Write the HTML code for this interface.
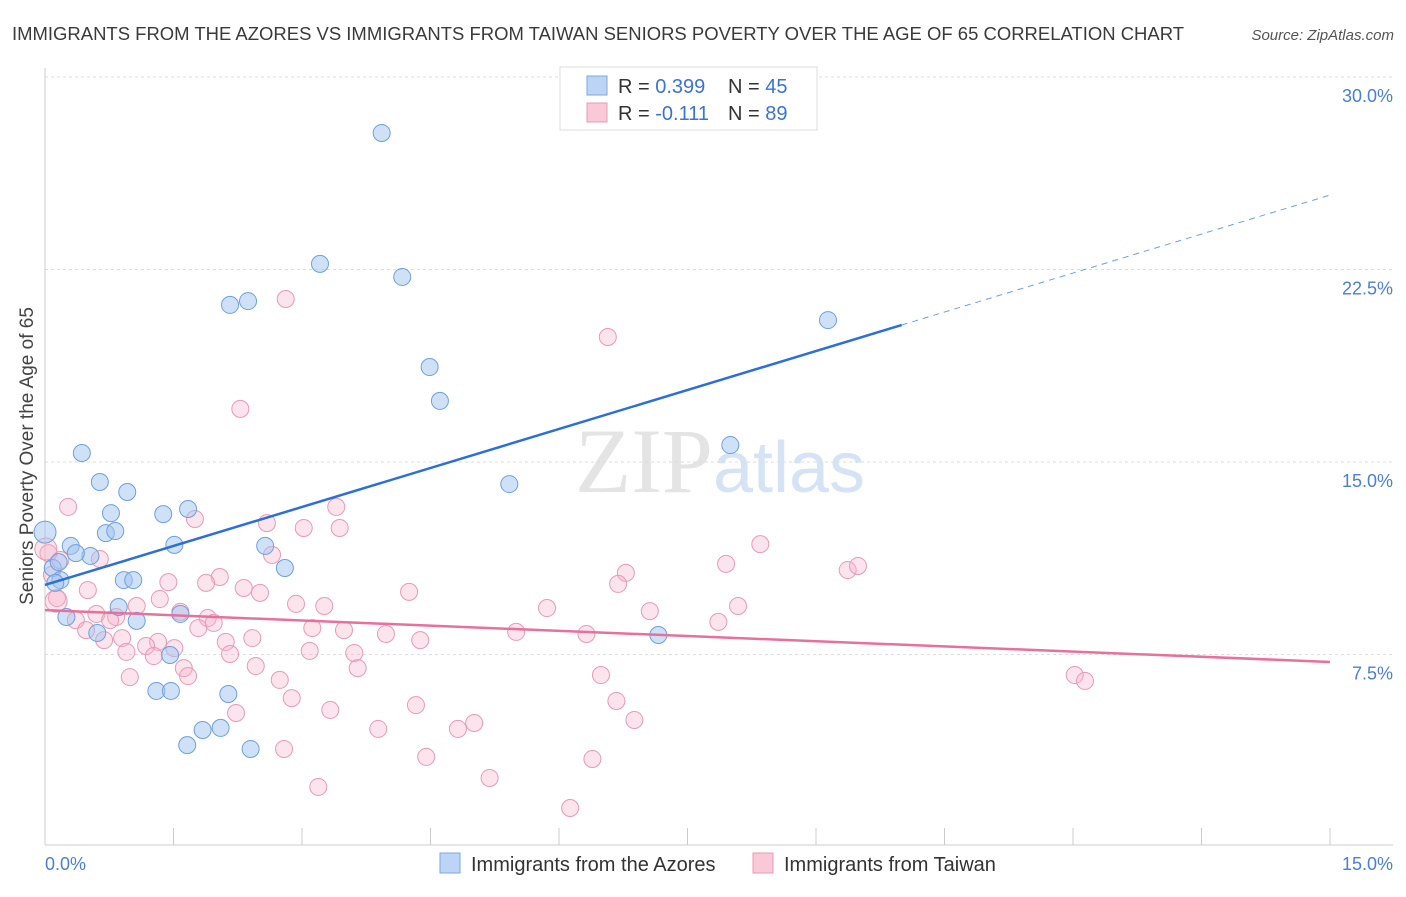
<!DOCTYPE html>
<html><head><meta charset="utf-8"><style>
body{margin:0;background:#fff;font-family:"Liberation Sans",sans-serif;}
</style></head><body>
<svg id="chart" width="1406" height="892" xmlns="http://www.w3.org/2000/svg" style="font-family:'Liberation Sans',sans-serif">
<text x="12" y="40" font-size="18" fill="#3a3a3a" textLength="1172" lengthAdjust="spacingAndGlyphs">IMMIGRANTS FROM THE AZORES VS IMMIGRANTS FROM TAIWAN SENIORS POVERTY OVER THE AGE OF 65 CORRELATION CHART</text>
<text x="1394" y="40" font-size="15" fill="#555" text-anchor="end" font-style="italic">Source: ZipAtlas.com</text>
<text x="720" y="492" font-size="92" text-anchor="middle" fill="#e4e4e4" font-family="Liberation Serif">ZIP<tspan fill="#d6e3f5" font-family="Liberation Sans" font-size="72">atlas</tspan></text>
<text transform="translate(33,456) rotate(-90)" font-size="19" fill="#444" text-anchor="middle">Seniors Poverty Over the Age of 65</text>
<g id="grid"></g><g id="axes"></g><g id="pts"></g><g id="trend"></g>
<g>
<rect x="560" y="67" width="257" height="63" fill="#fff" stroke="#ddd"/>
<rect x="587" y="76" width="20" height="19" fill="#bcd4f6" stroke="#7aa8e0"/>
<rect x="587" y="103" width="20" height="19" fill="#f9c9d8" stroke="#e89ab5"/>
<text x="618" y="93" font-size="20" fill="#333">R = <tspan fill="#3a74d0">0.399</tspan><tspan x="728">N = </tspan><tspan fill="#3a74d0">45</tspan></text>
<text x="618" y="120" font-size="20" fill="#333">R = <tspan fill="#3a74d0">-0.111</tspan><tspan x="728">N = </tspan><tspan fill="#3a74d0">89</tspan></text>
</g>
<g>
<rect x="440" y="853" width="20" height="20" fill="#bcd4f6" stroke="#7aa8e0"/>
<text x="471" y="871" font-size="20" fill="#333">Immigrants from the Azores</text>
<rect x="753" y="853" width="20" height="20" fill="#f9c9d8" stroke="#e89ab5"/>
<text x="784" y="871" font-size="20" fill="#333">Immigrants from Taiwan</text>
</g>
</svg>
<script>
const yTicks=[7.5,15,22.5,30];
const yTickLabels=["7.5%","15.0%","22.5%","30.0%"];
const xTickLabels=["0.0%","15.0%"];
const azoresX=[3.93,3.21,4.17,2.16,2.37,4.49,4.61,9.14,8.00,5.42,0.43,0.64,0.96,0.77,1.38,1.67,0.71,0.82,0.0,1.51,0.30,0.53,0.36,2.57,2.80,0.09,0.18,0.92,1.03,0.86,1.58,0.25,1.07,0.61,1.46,7.16,1.30,1.47,2.14,1.66,1.84,2.05,2.40,0.16,0.12];
const azoresY=[27.82,22.72,22.21,21.12,21.27,18.70,17.38,20.53,15.66,14.14,15.35,14.22,13.83,13.01,12.97,13.17,12.23,12.31,12.27,11.77,11.73,11.34,11.45,11.73,10.87,10.87,10.40,10.40,10.40,9.35,9.08,8.96,8.81,8.34,7.48,8.26,6.08,6.08,5.96,3.97,4.56,4.64,3.82,11.10,10.29];
const taiwanX=[2.81,6.57,2.28,0.27,3.40,1.75,2.59,3.02,3.44,8.35,0.64,0.18,0.04,0.08,2.65,7.95,6.78,9.37,9.49,6.69,2.04,1.44,1.88,2.32,2.51,4.25,0.50,0.14,1.34,2.93,3.26,5.86,7.06,8.09,1.07,1.58,0.60,0.83,1.90,0.36,0.76,1.97,1.79,3.12,3.49,5.50,6.32,3.98,4.38,7.86,0.48,0.90,0.69,2.42,2.11,1.32,1.18,1.51,0.95,3.09,3.61,1.27,2.16,2.46,3.65,1.62,1.67,0.99,2.74,6.49,12.02,12.14,2.88,6.67,4.33,3.33,2.23,6.88,5.01,4.82,3.89,2.79,4.45,6.39,5.19,3.19,6.13,0.01,0.13];
const taiwanY=[21.35,19.87,17.07,13.25,13.25,12.78,12.62,12.43,12.43,11.80,11.22,11.18,11.45,10.60,11.38,11.03,10.68,10.79,10.95,10.25,10.52,10.32,10.29,10.09,9.90,9.94,10.01,9.70,9.66,9.47,9.39,9.31,9.19,9.39,9.39,9.16,9.08,8.96,8.92,8.84,8.84,8.73,8.53,8.53,8.45,8.38,8.30,8.30,8.06,8.77,8.45,8.14,8.06,8.14,7.99,7.99,7.83,7.75,7.60,7.64,7.56,7.44,7.52,7.05,6.97,6.97,6.66,6.62,6.51,6.70,6.70,6.47,5.80,5.69,5.53,5.34,5.22,4.95,4.83,4.60,4.60,3.82,3.51,3.43,2.69,2.34,1.52,11.61,9.58];
const azoresTrend=[10.21,25.40];
const taiwanTrend=[9.23,7.21];
const NS="http://www.w3.org/2000/svg";
const X=v=>45+v/15*1285, Y=v=>847-v/7.5*192.5;
function mk(t,a,p){const e=document.createElementNS(NS,t);for(const k in a)e.setAttribute(k,a[k]);document.getElementById(p).appendChild(e);return e;}
yTicks.forEach((t,i)=>{
 let l=mk('line',{x1:45,x2:1393,y1:Y(t),y2:Y(t),stroke:'#ddd','stroke-dasharray':'3,3'},'grid');
 
 
 let tx=mk('text',{x:1393,y:Y(t)+25,'font-size':18,fill:'#4a7fd4','text-anchor':'end'},'axes');tx.textContent=yTickLabels[i];
 
 
});
let ax=mk('line',{x1:45,x2:1393,y1:845,y2:845,stroke:'#ccc'},'axes');


let ay=mk('line',{x1:45,x2:45,y1:68,y2:845,stroke:'#ccc'},'axes');


for(let k=1;k<=10;k++){let t=mk('line',{x1:45+k*128.5,x2:45+k*128.5,y1:828,y2:845,stroke:'#ccc'},'axes');
 
 }
[[45,'start',0],[1393,'end',1]].forEach(([x,a,i])=>{let t=mk('text',{x:x,y:870,'font-size':18,fill:'#4a7fd4','text-anchor':a},'axes');t.textContent=xTickLabels[i];
 
 });
taiwanX.forEach((v,i)=>{const big=i>=taiwanX.length-2;let c=mk('circle',{cx:X(v),cy:Y(taiwanY[i]),r:big?11:8.5,fill:'rgba(246,178,200,0.35)',stroke:'#e89ab5','stroke-width':1},'pts');
 
 });
azoresX.forEach((v,i)=>{let c=mk('circle',{cx:X(v),cy:Y(azoresY[i]),r:v===0?11:8.5,fill:'rgba(160,195,240,0.5)',stroke:'#6f9fde','stroke-width':1},'pts');
 
 });
const by=x=>azoresTrend[0]+(azoresTrend[1]-azoresTrend[0])*x/15;
let b1=mk('line',{x1:X(0),y1:Y(by(0)),x2:X(10),y2:Y(by(10)),stroke:'#2c6fd6','stroke-width':2.5},'trend');


let b2=mk('line',{x1:X(10),y1:Y(by(10)),x2:X(15),y2:Y(by(15)),stroke:'#6f9fde','stroke-width':1,'stroke-dasharray':'6,5'},'trend');


let p1=mk('line',{x1:X(0),y1:Y(taiwanTrend[0]),x2:X(15),y2:Y(taiwanTrend[1]),stroke:'#e8709a','stroke-width':2.5},'trend');


</script>
</body></html>
